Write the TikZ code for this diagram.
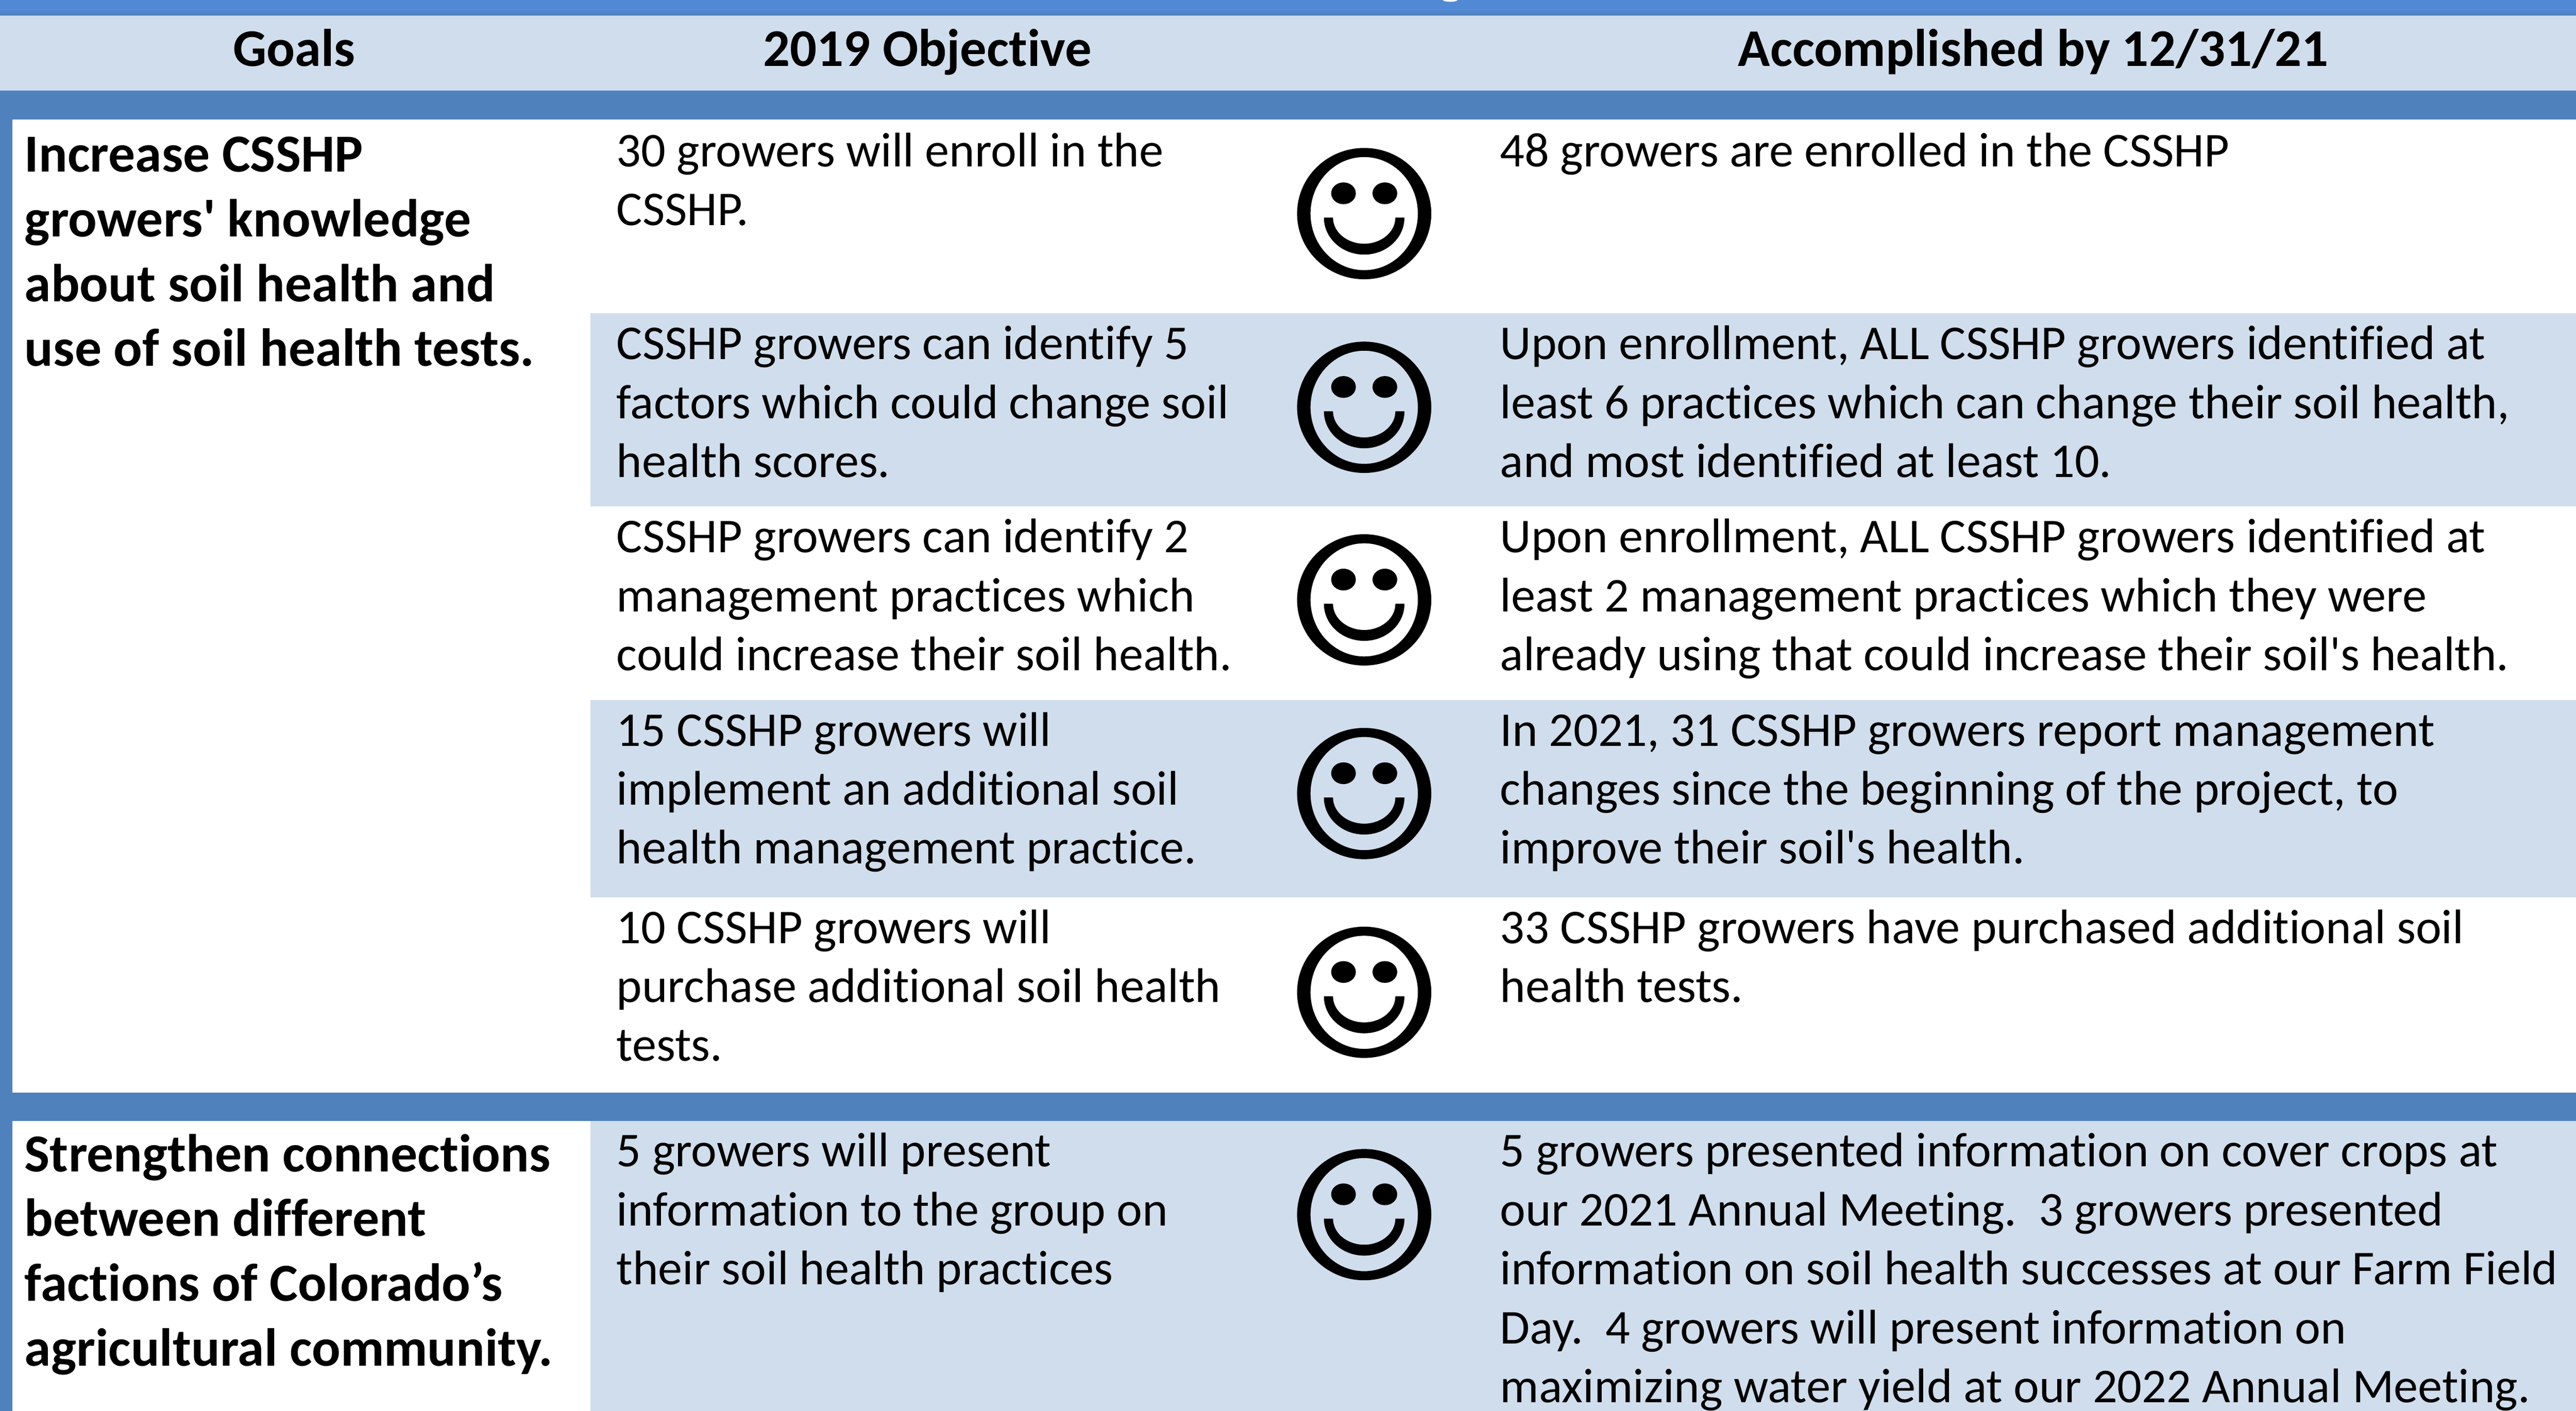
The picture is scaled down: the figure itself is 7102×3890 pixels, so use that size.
\documentclass[tikz,border=0pt]{standalone}
\usepackage{fontspec}
\newfontfamily\carlito[Ligatures=NoCommon]{Carlito}
\definecolor{bandtop}{HTML}{5289D4}
\definecolor{bandlow}{HTML}{4F7DB8}
\definecolor{band}{HTML}{4F81BD}
\definecolor{lightrow}{HTML}{D0DDEC}
\definecolor{hairline}{HTML}{A9C8EE}
\newcommand{\firstline}{\rule{0pt}{14pt}}
\newcommand{\smileyface}[2]{%
  \coordinate (#1) at (3761,-#2);
  \begin{scope}[shift={(#1)}]
    \fill[black,even odd rule] (0,0) ellipse [x radius=185,y radius=181] (0,0) ellipse [x radius=148,y radius=156];
    \fill[black] (-57,56) ellipse [x radius=34,y radius=30];
    \fill[black] (57,56) ellipse [x radius=34,y radius=30];
    \fill[black] (-111,-11) arc [start angle=180,end angle=360,x radius=111,y radius=102] -- (86,-11) arc [start angle=360,end angle=180,x radius=86,y radius=72] -- cycle;
  \end{scope}}
\tikzset{
  x=0.1pt,y=0.1pt,
  bodycell/.style={anchor=north west,inner sep=0pt,outer sep=0pt,align=left,font=\carlito\fontsize{13.4}{16.25}\selectfont},
  goalcell/.style={anchor=north west,inner sep=0pt,outer sep=0pt,align=left,font=\carlito\bfseries\fontsize{14.75}{17.85}\selectfont},
  headcell/.style={anchor=base,inner sep=0pt,outer sep=0pt,font=\carlito\bfseries\fontsize{14.6}{17.85}\selectfont},
}
\begin{document}
\begin{tikzpicture}
\path[use as bounding box,clip] (0,0) rectangle (7102,-3890);
% backgrounds
\fill[white] (0,0) rectangle (7102,-3890);
\fill[bandtop] (0,0) rectangle (7102,-30);
\shade[top color=bandtop,bottom color=bandlow] (0,-28) rectangle (7102,-42);
\fill[lightrow] (0,-42) rectangle (7102,-250);
\fill[hairline] (0,-42) rectangle (7102,-44);
\fill[hairline] (0,-248) rectangle (7102,-250);
\fill[band] (0,-250) rectangle (7102,-330);
\fill[band] (0,-330) rectangle (34,-3890);
\fill[band] (34,-3012) rectangle (7102,-3091);
\fill[lightrow] (1628,-863) rectangle (7102,-1396);
\fill[lightrow] (1628,-1931) rectangle (7102,-2475);
\fill[lightrow] (1628,-3091) rectangle (7102,-3890);
\fill[white] (3998,0) ellipse [x radius=20,y radius=5];
% header
\node[headcell] (hgoals) at (811,-182) {Goals};
\node[headcell] (hobj) at (2557,-182) {2019 Objective};
\node[headcell] (hacc) at (5606,-182) {Accomplished by 12/31/21};
% goals
\node[goalcell] (g1) at (68,-334) {\firstline Increase CSSHP\\growers' knowledge\\about soil health and\\use of soil health tests.};
\node[goalcell] (g2) at (68,-3090) {\firstline Strengthen connections\\between different\\factions of Colorado’s\\agricultural community.};
% objectives
\node[bodycell] (o1) at (1700,-319) {\firstline 30 growers will enroll in the\\CSSHP.};
\node[bodycell] (o2) at (1700,-851) {\firstline CSSHP growers can identify 5\\factors which could change soil\\health scores.};
\node[bodycell] (o3) at (1700,-1384) {\firstline CSSHP growers can identify 2\\management practices which\\could increase their soil health.};
\node[bodycell] (o4) at (1700,-1917) {\firstline 15 CSSHP growers will\\implement an additional soil\\health management practice.};
\node[bodycell] (o5) at (1700,-2461) {\firstline 10 CSSHP growers will\\purchase additional soil health\\tests.};
\node[bodycell] (o6) at (1700,-3077) {\firstline 5 growers will present\\information to the group on\\their soil health practices};
% accomplished
\node[bodycell] (a1) at (4136,-319) {\firstline 48 growers are enrolled in the CSSHP};
\node[bodycell] (a2) at (4136,-851) {\firstline Upon enrollment, ALL CSSHP growers identified at\\least 6 practices which can change their soil health,\\and most identified at least 10.};
\node[bodycell] (a3) at (4136,-1384) {\firstline Upon enrollment, ALL CSSHP growers identified at\\least 2 management practices which they were\\already using that could increase their soil's health.};
\node[bodycell] (a4) at (4136,-1917) {\firstline In 2021, 31 CSSHP growers report management\\changes since the beginning of the project, to\\improve their soil's health.};
\node[bodycell] (a5) at (4136,-2461) {\firstline 33 CSSHP growers have purchased additional soil\\health tests.};
\node[bodycell] (a6) at (4136,-3077) {\firstline 5 growers presented information on cover crops at\\our 2021 Annual Meeting.\ \ 3 growers presented\\information on soil health successes at our Farm Field\\Day.\ \ 4 growers will present information on\\maximizing water yield at our 2022 Annual Meeting.};
% smileys
\smileyface{s1}{589}
\smileyface{s2}{1123}
\smileyface{s3}{1654}
\smileyface{s4}{2188}
\smileyface{s5}{2736}
\smileyface{s6}{3349}
\end{tikzpicture}
\end{document}
